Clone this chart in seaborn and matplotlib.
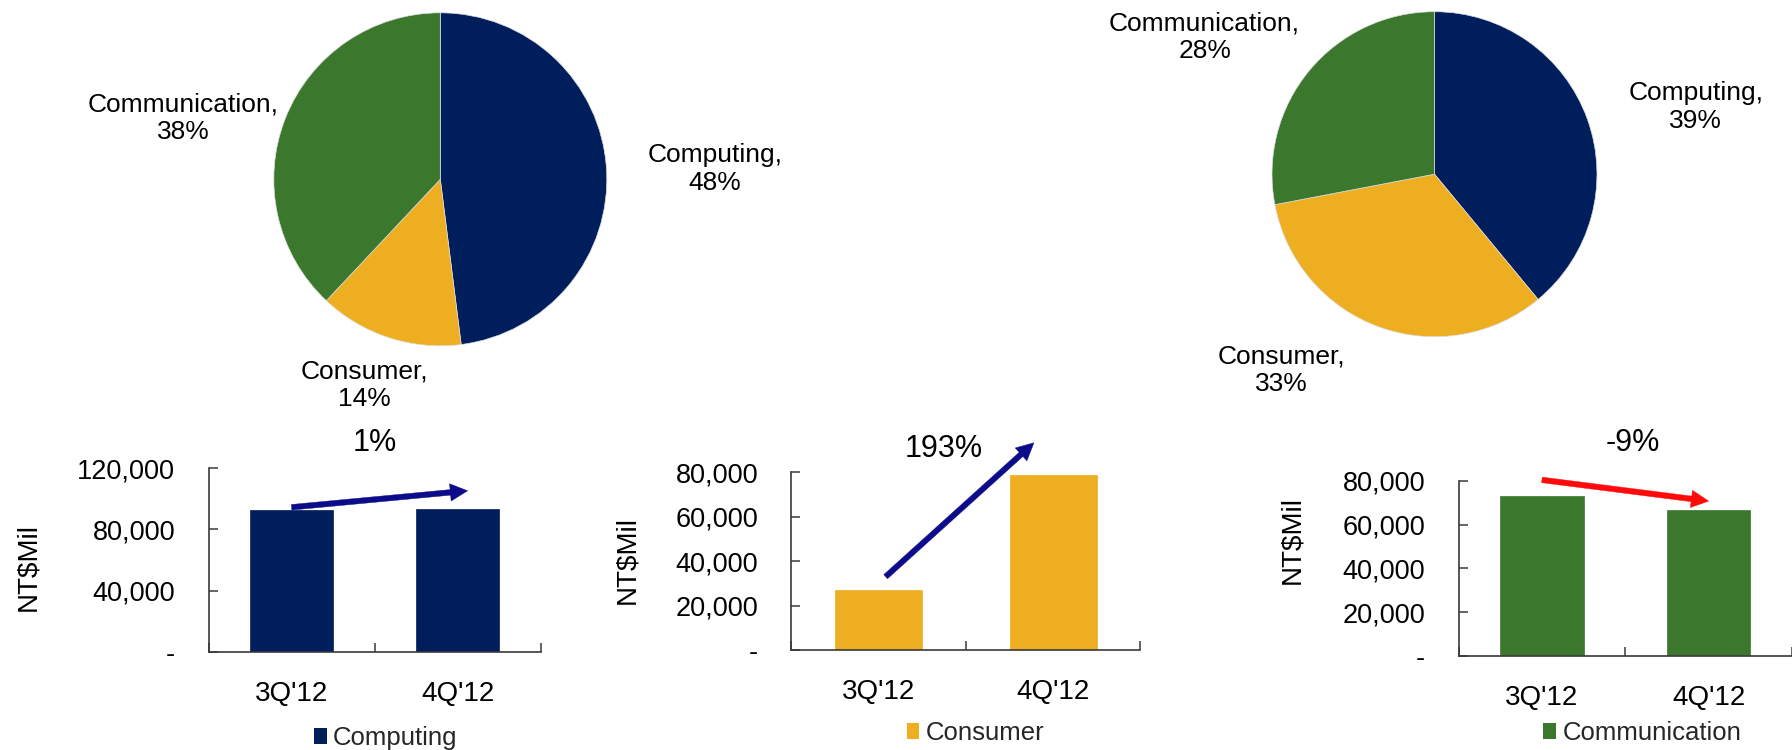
import matplotlib
matplotlib.use('Agg')
import matplotlib.pyplot as plt
import seaborn as sns
import pandas as pd
from matplotlib.patches import Patch
from matplotlib.ticker import FuncFormatter

sns.set_theme(style='white')
plt.rcParams['font.family'] = ['Liberation Sans', 'DejaVu Sans']

# ---------------- data ----------------
segments = ['Computing', 'Consumer', 'Communication']
seg_colors = ['#001E5C', '#EDAE22', '#3B772D']
pie1_share = [48, 14, 38]
pie2_share = [39, 33, 28]
quarters = ["3Q'12", "4Q'12"]
computing_rev = [92500, 93200]
consumer_rev = [27000, 79000]
communication_rev = [73300, 66800]
growth_labels = ['1%', '193%', '-9%']
arrow_colors = ['#0C0C8A', '#0C0C8A', '#FF0A0A']

W, H = 1792, 750
fig = plt.figure(figsize=(W / 100, H / 100), dpi=100)
fig.patch.set_facecolor('white')


def px(x, y):
    return x / W, 1 - y / H


def axes_px(left, top, right, bottom):
    return fig.add_axes([left / W, 1 - bottom / H, (right - left) / W, (bottom - top) / H])


FS_PIE = 19
FS_TICK = 19.5
FS_XT = 20
FS_LEG = 18.5
FS_PCT = 22

# ---------------- pies ----------------
pie_layout = [
    dict(share=pie1_share, cx=440.3, cy=179.3, r=166.5,
         labels=[(714.7, 169), (364.6, 385), (183, 118)]),
    dict(share=pie2_share, cx=1434.5, cy=174.2, r=162.5,
         labels=[(1695.8, 107), (1281, 370), (1204.6, 37)]),
]
for p in pie_layout:
    ax = axes_px(p['cx'] - p['r'], p['cy'] - p['r'], p['cx'] + p['r'], p['cy'] + p['r'])
    ax.pie(p['share'], colors=seg_colors, startangle=90, counterclock=False,
           radius=1, wedgeprops=dict(edgecolor='#dddddd', linewidth=0.5))
    ax.set_xlim(-1, 1)
    ax.set_ylim(-1, 1)
    ax.set_aspect('equal')
    ax.axis('off')
    for seg, val, (lx, ly) in zip(segments, p['share'], p['labels']):
        fig.text(*px(lx, ly), f"{seg},\n{val}%", ha='center', va='center',
                 multialignment='center', fontsize=FS_PIE, linespacing=1.17, color='black')

# ---------------- bars ----------------
bar_layout = [
    dict(vals=computing_rev, box=(208.6, 468.3, 540.7, 651.7), xmax=1.5, ymax=120000,
         yticks=[0, 40000, 80000, 120000], ylab=(28, 567), pct=(375, 443),
         arrow=((0.0, 94500), (1.06, 105300)), legend=(385.8, 738)),
    dict(vals=consumer_rev, box=(791.4, 472.3, 1140.4, 650.0), xmax=1.5, ymax=80000,
         yticks=[0, 20000, 40000, 60000, 80000], ylab=(627, 560), pct=(944, 449),
         arrow=((0.04, 33000), (0.89, 93300)), legend=(975.5, 733)),
    dict(vals=communication_rev, box=(1458.6, 481.0, 1792.0, 655.7), xmax=1.405, ymax=80000,
         yticks=[0, 20000, 40000, 60000, 80000], ylab=(1292.5, 540), pct=(1633, 443),
         arrow=((0.0, 80500), (1.0, 70800)), legend=(1642.5, 733)),
]

fmt = FuncFormatter(lambda v, pos: '-' if v == 0 else f'{int(v):,}')

for i, b in enumerate(bar_layout):
    ax = axes_px(*b['box'])
    df = pd.DataFrame({'quarter': quarters, 'rev': b['vals']})
    sns.barplot(data=df, x='quarter', y='rev', color=seg_colors[i], width=0.5,
                saturation=1, ax=ax, edgecolor=seg_colors[i], linewidth=0.5)
    ax.set_xlim(-0.5, b['xmax'])
    ax.set_ylim(0, b['ymax'])
    ax.set_xlabel('')
    ax.set_ylabel('')
    ax.set_facecolor('white')
    for s in ['top', 'right']:
        ax.spines[s].set_visible(False)
    for s in ['left', 'bottom']:
        ax.spines[s].set_color('#3a3a3a')
        ax.spines[s].set_linewidth(1.2)
    ax.set_yticks(b['yticks'])
    ax.yaxis.set_major_formatter(fmt)
    ax.tick_params(axis='y', direction='in', length=6.5, width=1.1, color='#3a3a3a',
                   pad=24, labelsize=FS_TICK, labelcolor='black', left=True)
    ax.set_xticks([-0.5, 0.5, 1.5])
    ax.set_xticklabels([])
    ax.set_xticks([0, 1], minor=True)
    ax.set_xticklabels(quarters, minor=True)
    ax.tick_params(axis='x', which='major', direction='in', length=6.5, width=1.1,
                   color='#3a3a3a', bottom=True)
    ax.tick_params(axis='x', which='minor', length=0, pad=21, labelsize=FS_XT,
                   labelcolor='black', bottom=True)
    ax.grid(False)

    fig.text(*px(*b['ylab']), 'NT$Mil', rotation=90, ha='center', va='center',
             fontsize=20, color='black')
    fig.text(*px(*b['pct']), growth_labels[i], ha='center', va='center',
             fontsize=FS_PCT, color='black')
    (x0, y0), (x1, y1) = b['arrow']
    ax.annotate('', xy=(x1, y1), xytext=(x0, y0), annotation_clip=False,
                arrowprops=dict(arrowstyle='simple,head_width=1.0,head_length=1.0,tail_width=0.32',
                                mutation_scale=12.5, fc=arrow_colors[i], ec=arrow_colors[i],
                                lw=0.3, shrinkA=0, shrinkB=0))
    ax.legend(handles=[Patch(facecolor=seg_colors[i], edgecolor='none')],
              labels=[segments[i]], loc='center', bbox_to_anchor=px(*b['legend']),
              bbox_transform=fig.transFigure, frameon=False, handlelength=0.5,
              handleheight=0.55, handletextpad=0.25, borderpad=0, borderaxespad=0,
              fontsize=FS_LEG)

fig.savefig('out.png', dpi=100, facecolor='white')
